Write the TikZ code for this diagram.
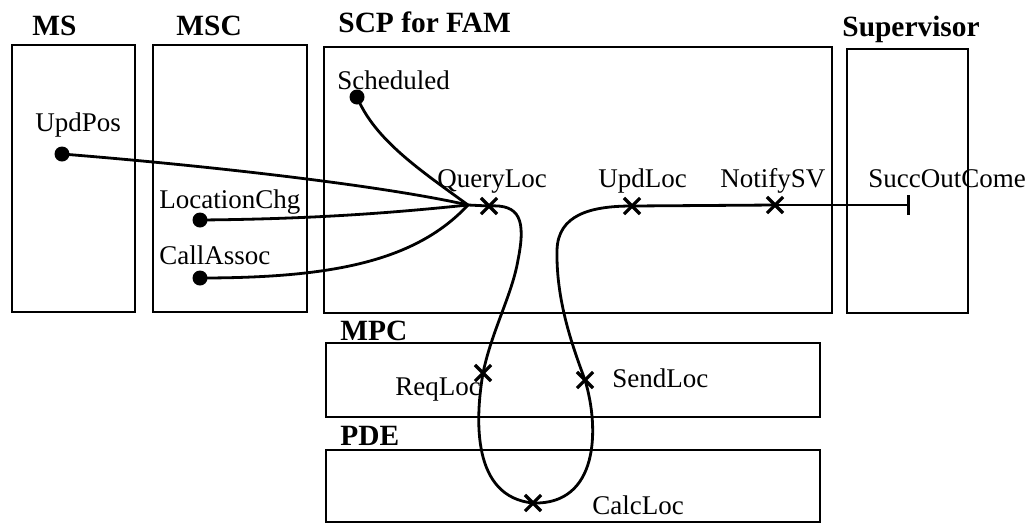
\documentclass[tikz,border=0pt]{standalone}
\usepackage{fontspec}
\setmainfont{Liberation Serif}
\usetikzlibrary{arrows.meta,shapes.misc}

\begin{document}
\begin{tikzpicture}[
  x=0.5pt, y=-0.5pt,
  font=\fontsize{13.5}{16}\selectfont,
  box/.style={draw,line width=1.1pt},
  title/.style={anchor=base west,inner sep=0pt,font=\fontsize{14.7}{17}\selectfont\bfseries},
  lbl/.style={anchor=base west,inner sep=0pt},
  src/.style={circle,fill,inner sep=0pt,minimum size=7.5pt},
  evt/.style={cross out,draw,line width=1.6pt,inner sep=0pt,minimum size=6.5pt},
  flow/.style={line width=1.4pt},
]
  \useasboundingbox (0,0) rectangle (1031,525);
  % the processes
  \draw[box] (12,45) rectangle (135,312);
  \draw[box] (153,45) rectangle (307,312);
  \draw[box] (324,47) rectangle (832,313);
  \draw[box] (847,49) rectangle (968,313);
  \draw[box] (326,343) rectangle (820,417);
  \draw[box] (326,450) rectangle (820,522);
  \node[title] (ms) at (32,35) {MS};
  \node[title] (msc) at (176,35) {MSC};
  \node[title] (scp) at (338,32) {SCP for FAM};
  \node[title] (sv) at (842,36) {Supervisor};
  \node[title] (mpc) at (340,340) {MPC};
  \node[title] (pde) at (340,445) {PDE};
  % start points
  \node[src] (updpos) at (62,154) {};
  \node[src] (locchg) at (200,220) {};
  \node[src] (callassoc) at (200,278) {};
  \node[src] (sched) at (357,97) {};
  \node[lbl] (updposlbl) at (35,131) {UpdPos};
  \node[lbl] (locchglbl) at (159,208) {LocationChg};
  \node[lbl] (callassoclbl) at (159,264) {CallAssoc};
  \node[lbl] (schedlbl) at (337,89) {Scheduled};
  % events
  \coordinate (merge) at (468,205);
  \node[evt] (queryloc) at (489,206) {};
  \node[evt] (reqloc) at (483,373) {};
  \node[evt] (calcloc) at (533,503) {};
  \node[evt] (sendloc) at (585,380) {};
  \node[evt] (updloc) at (632,206) {};
  \node[evt] (notifysv) at (775,205) {};
  \coordinate (succ) at (910,205);
  \node[lbl] (querylbl) at (437,187) {QueryLoc};
  \node[lbl] (updloclbl) at (598,187) {UpdLoc};
  \node[lbl] (notifylbl) at (720,187) {NotifySV};
  \node[lbl] (succlbl) at (868,187) {SuccOutCome};
  \node[lbl] (reqlbl) at (395,395) {ReqLoc};
  \node[lbl] (sendlbl) at (612,387) {SendLoc};
  \node[lbl] (calclbl) at (592,514) {CalcLoc};
  % the paths
  \draw[flow] (updpos.center) .. controls (200,165) and (380,185) .. (merge);
  \draw[flow] (locchg.center) .. controls (320,219) and (400,212) .. (merge);
  \draw[flow] (callassoc.center) .. controls (330,278) and (415,262) .. (merge);
  \draw[flow] (sched.center) .. controls (375,140) and (420,170) .. (merge);
  \draw[flow] (merge) -- (queryloc.center)
    .. controls (520,204) and (526,220) .. (518,260)
    .. controls (512,295) and (492,330) .. (reqloc.center)
    .. controls (475,420) and (472,497) .. (calcloc.center)
    .. controls (598,505) and (600,430) .. (sendloc.center)
    .. controls (572,345) and (556,300) .. (557,250)
    .. controls (558,215) and (590,206) .. (updloc.center)
    -- (notifysv.center);
  \draw[flow,-{Bar[width=10pt,line width=1.4pt]}] (notifysv.center) -- (succ);
\end{tikzpicture}
\end{document}
